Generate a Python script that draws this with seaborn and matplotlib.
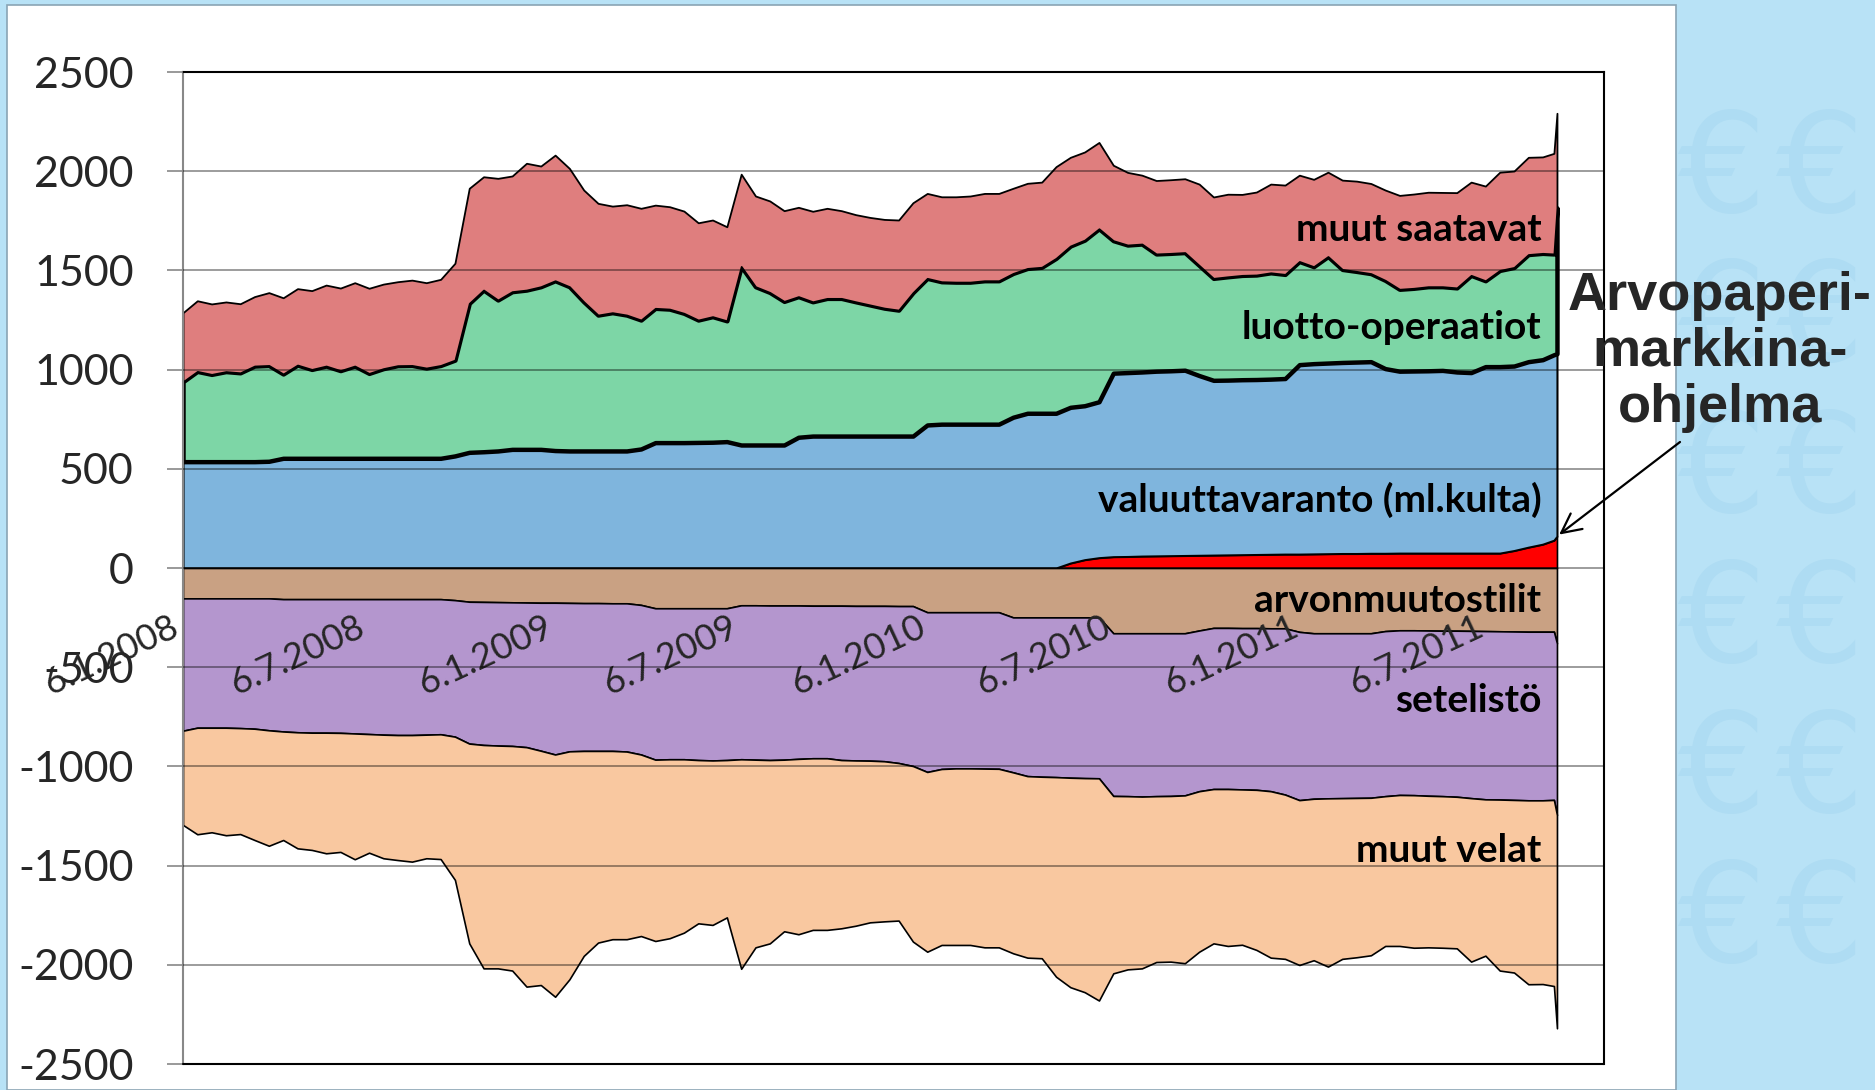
import pandas as pd
import numpy as np
import matplotlib
matplotlib.use('Agg')
import matplotlib.pyplot as plt
import matplotlib.patches as mpatches
import seaborn as sns

sns.set_theme(style='white')
plt.rcParams['font.family'] = ['Lato', 'DejaVu Sans']
plt.rcParams['axes.unicode_minus'] = False

# weekly balance sheet, read every second week + the two last releases
dates = list(pd.date_range('2008-01-06', '2011-08-28', freq='14D')) + \
    [pd.Timestamp('2011-09-08'), pd.Timestamp('2011-09-11')]

# positive side (cumulative levels, bn EUR)
assets_total = [1287, 1347, 1331, 1341, 1332, 1368, 1388, 1362, 1408, 1398,
                1426, 1411, 1438, 1410, 1431, 1443, 1451, 1438, 1455, 1536,
                1914, 1972, 1964, 1976, 2040, 2026, 2081, 2014, 1905, 1838,
                1824, 1831, 1813, 1829, 1821, 1799, 1740, 1754, 1720, 1985,
                1875, 1850, 1801, 1818, 1798, 1813, 1801, 1781, 1767, 1757,
                1754, 1841, 1888, 1871, 1871, 1875, 1888, 1888, 1914, 1939,
                1945, 2023, 2070, 2097, 2145, 2030, 1994, 1980, 1953, 1957,
                1962, 1935, 1870, 1884, 1883, 1895, 1935, 1930, 1980, 1959,
                1995, 1955, 1950, 1938, 1905, 1878, 1885, 1894, 1893, 1892,
                1945, 1925, 1995, 2001, 2070, 2072, 2090, 2292]
credit_top = [939, 991, 976, 990, 984, 1018, 1021, 978, 1023, 1001,
              1018, 995, 1018, 981, 1005, 1020, 1021, 1008, 1021, 1048,
              1334, 1401, 1351, 1393, 1401, 1418, 1448, 1418, 1342, 1275,
              1287, 1275, 1250, 1309, 1305, 1284, 1250, 1267, 1246, 1520,
              1418, 1389, 1344, 1368, 1342, 1359, 1359, 1342, 1326, 1310,
              1300, 1388, 1460, 1443, 1441, 1441, 1448, 1448, 1485, 1510,
              1516, 1561, 1623, 1653, 1710, 1650, 1628, 1633, 1583, 1586,
              1590, 1525, 1460, 1468, 1475, 1477, 1488, 1480, 1545, 1519,
              1570, 1505, 1495, 1484, 1450, 1405, 1410, 1418, 1418, 1412,
              1475, 1448, 1500, 1515, 1580, 1586, 1583, 1815]
fx_top = [536, 536, 536, 536, 536, 536, 538, 553, 553, 553,
          553, 553, 553, 553, 553, 553, 553, 553, 553, 565,
          583, 586, 590, 598, 598, 598, 592, 590, 590, 590,
          590, 590, 600, 632, 632, 632, 633, 634, 637, 620,
          620, 620, 620, 659, 665, 665, 665, 665, 665, 665,
          665, 665, 721, 725, 725, 725, 725, 725, 760, 780,
          780, 780, 810, 818, 838, 982, 985, 988, 992, 994,
          997, 970, 946, 947, 949, 950, 952, 955, 1025, 1030,
          1033, 1036, 1038, 1040, 1005, 992, 993, 994, 996, 988,
          985, 1015, 1015, 1018, 1040, 1050, 1075, 1080]
smp = [0, 0, 0, 0, 0, 0, 0, 0, 0, 0,
       0, 0, 0, 0, 0, 0, 0, 0, 0, 0,
       0, 0, 0, 0, 0, 0, 0, 0, 0, 0,
       0, 0, 0, 0, 0, 0, 0, 0, 0, 0,
       0, 0, 0, 0, 0, 0, 0, 0, 0, 0,
       0, 0, 0, 0, 0, 0, 0, 0, 0, 0,
       0, 0, 25, 42, 52, 57, 58, 60, 61, 62,
       63, 64, 65, 66, 67, 68, 69, 70, 70, 71,
       72, 73, 73, 74, 74, 75, 75, 75, 75, 75,
       75, 75, 75, 88, 105, 120, 140, 160]

# negative side (cumulative levels)
reval_bottom = [-153, -153, -153, -153, -153, -153, -153, -157, -157, -157,
                -157, -157, -157, -157, -157, -157, -157, -157, -157, -162,
                -170, -171, -172, -173, -174, -175, -175, -176, -177, -177,
                -178, -178, -186, -203, -203, -203, -203, -203, -203, -188,
                -188, -189, -189, -189, -190, -190, -190, -191, -191, -191,
                -192, -192, -223, -223, -223, -223, -223, -223, -249, -249,
                -249, -249, -249, -249, -249, -329, -329, -329, -329, -329,
                -329, -315, -302, -302, -303, -303, -304, -304, -322, -329,
                -329, -329, -329, -329, -318, -314, -314, -315, -316, -316,
                -317, -318, -319, -320, -321, -321, -321, -380]
notes_bottom = [-820, -805, -805, -805, -807, -810, -818, -824, -828, -830,
                -830, -831, -834, -837, -840, -842, -842, -840, -838, -850,
                -885, -892, -895, -897, -903, -921, -940, -924, -922, -922,
                -922, -925, -940, -966, -964, -964, -968, -970, -968, -964,
                -966, -968, -966, -962, -959, -959, -968, -970, -971, -974,
                -983, -998, -1028, -1013, -1010, -1010, -1011, -1012, -1030, -1049,
                -1052, -1054, -1057, -1059, -1060, -1149, -1150, -1152, -1150, -1149,
                -1146, -1125, -1114, -1114, -1116, -1118, -1125, -1142, -1170, -1163,
                -1161, -1160, -1159, -1158, -1150, -1144, -1145, -1148, -1150, -1153,
                -1160, -1166, -1167, -1169, -1171, -1171, -1169, -1245]
liab_total = [-1295, -1342, -1332, -1347, -1341, -1371, -1400, -1371, -1413, -1421,
              -1438, -1431, -1468, -1435, -1463, -1472, -1480, -1463, -1467, -1572,
              -1892, -2018, -2018, -2029, -2110, -2102, -2161, -2073, -1955, -1888,
              -1871, -1871, -1855, -1880, -1866, -1838, -1791, -1799, -1761, -2020,
              -1912, -1892, -1831, -1846, -1824, -1824, -1816, -1803, -1786, -1781,
              -1777, -1883, -1934, -1900, -1900, -1900, -1912, -1912, -1942, -1964,
              -1967, -2060, -2113, -2138, -2180, -2043, -2023, -2018, -1986, -1984,
              -1992, -1934, -1892, -1905, -1899, -1925, -1964, -1970, -2001, -1977,
              -2009, -1970, -1962, -1952, -1905, -1905, -1914, -1912, -1914, -1917,
              -1984, -1954, -2029, -2039, -2098, -2097, -2107, -2320]

tick_labels = ['6.1.2008', '6.7.2008', '6.1.2009', '6.7.2009',
               '6.1.2010', '6.7.2010', '6.1.2011', '6.7.2011']
y_ticks = [2500, 2000, 1500, 1000, 500, 0, -500, -1000, -1500, -2000, -2500]

W, H = 1875, 1090
fig = plt.figure(figsize=(W / 100, H / 100), dpi=100, facecolor='#B8E2F6')

# faint euro wallpaper to the right of the slide
for yc in [173, 323, 473, 623, 773, 923]:
    for xc in [1722, 1820]:
        fig.text(xc / W, 1 - yc / H, '€', fontsize=100, color='#AEDCF3',
                 ha='center', va='center', family='DejaVu Sans', zorder=0.5)

panel = mpatches.Rectangle((7 / W, 0), (1676 - 7) / W, 1 - 5 / H,
                           transform=fig.transFigure, facecolor='white',
                           edgecolor='#8AA4B4', lw=1.2, zorder=1)
fig.patches.append(panel)

ax = fig.add_axes([183 / W, 1 - 1064 / H, (1604 - 183) / W, (1064 - 72) / H])
ax.set_zorder(2)
ax.set_facecolor('white')
# category axis crosses at zero (must be set before the tick labels)
ax.spines['bottom'].set_position(('data', 0))
ax.spines['bottom'].set_visible(False)

# assets
ax.fill_between(dates, 0, smp, facecolor='#FF0000', edgecolor='black', lw=1.2)
ax.fill_between(dates, smp, fx_top, facecolor='#7FB5DD', edgecolor='black', lw=1.5)
ax.fill_between(dates, fx_top, credit_top, facecolor='#7DD6A6', edgecolor='black', lw=3.2)
ax.fill_between(dates, credit_top, assets_total, facecolor='#DF7E7E', edgecolor='black', lw=1.3)
# liabilities
ax.fill_between(dates, 0, reval_bottom, facecolor='#C9A183', edgecolor='black', lw=1.2)
ax.fill_between(dates, reval_bottom, notes_bottom, facecolor='#B496CE', edgecolor='black', lw=1.2)
ax.fill_between(dates, notes_bottom, liab_total, facecolor='#F9C8A0', edgecolor='black', lw=1.2)

ax.set_xlim(pd.Timestamp('2008-01-06'), pd.Timestamp('2011-10-27'))
ax.set_ylim(-2500, 2500)

ax.set_yticks(y_ticks)
ax.set_yticklabels([str(v) for v in y_ticks], fontsize=31)
ax.tick_params(axis='y', left=True, length=11.5, width=1.2, color='#888888',
               pad=24, direction='out')

ax.set_xticks(pd.to_datetime(tick_labels, format='%d.%m.%Y'))
ax.set_xticklabels(tick_labels, rotation=25, ha='right', fontsize=26)
ax.tick_params(axis='x', bottom=True, length=0, pad=30)

ax.spines['left'].set_color('#888888')
ax.spines['left'].set_linewidth(1.5)
for s in ['top', 'right']:
    ax.spines[s].set_color('black')
    ax.spines[s].set_linewidth(1.5)
ax.axhline(-2500, color='black', lw=1.5, clip_on=False, zorder=6)

ax.grid(axis='y', color='black', alpha=0.42, lw=1.3)
ax.grid(axis='x', visible=False)
ax.set_axisbelow(False)

lbl = dict(transform=ax.get_yaxis_transform(), ha='right', va='baseline',
           fontsize=28, fontweight='bold', color='black', zorder=7)
ax.text(0.956, 1650, 'muut saatavat', **lbl)
ax.text(0.956, 1154, 'luotto-operaatiot', **lbl)
ax.text(0.956, 285, 'valuuttavaranto (ml.kulta)', **lbl)
ax.text(0.956, -222, 'arvonmuutostilit', **lbl)
ax.text(0.956, -726, 'setelistö', **lbl)
ax.text(0.956, -1482, 'muut velat', **lbl)

ax.annotate('', xy=(dates[-1], smp[-1]), xycoords='data',
            xytext=(1680 / W, 1 - 442 / H), textcoords='figure fraction',
            arrowprops=dict(arrowstyle='->', color='black', lw=1.6,
                            mutation_scale=35, shrinkA=0, shrinkB=2),
            annotation_clip=False, zorder=8)

fig.text(1720 / W, 1 - 352 / H, 'Arvopaperi-\nmarkkina-\nohjelma',
         ha='center', va='center', fontsize=39, fontweight='bold',
         family='Liberation Sans', linespacing=1.15, zorder=5)

fig.savefig('out.png', dpi=100, facecolor=fig.get_facecolor())
